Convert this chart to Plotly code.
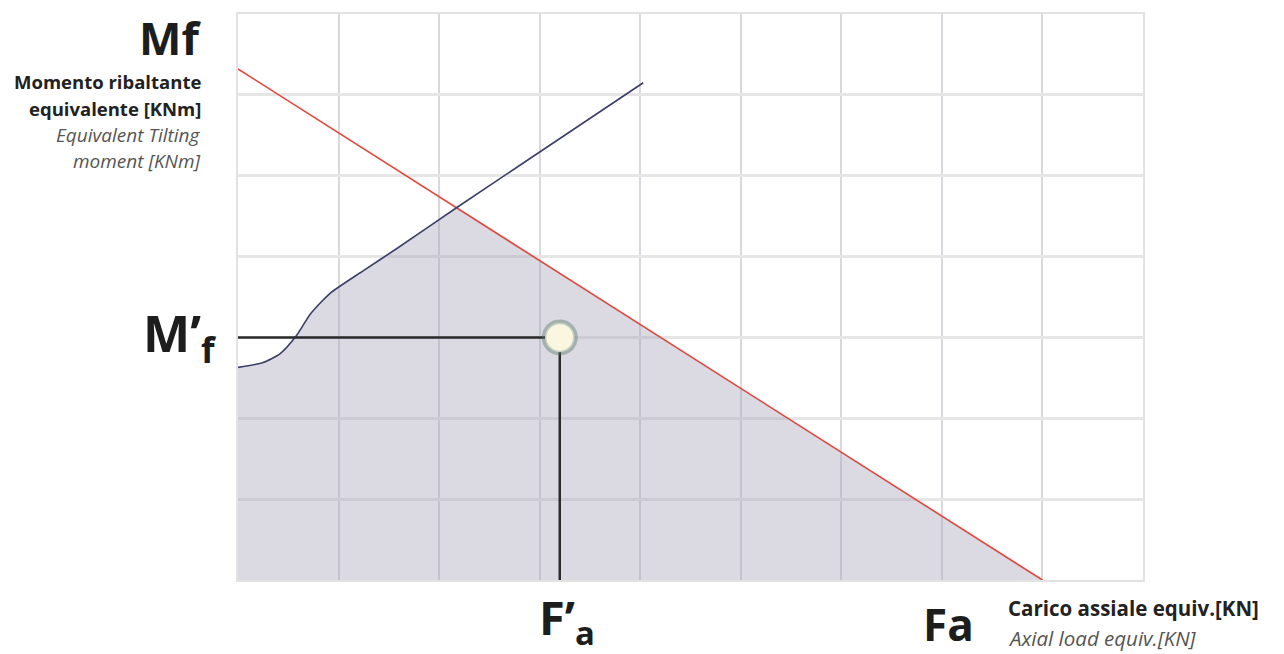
import plotly.graph_objects as go

# ---- data (axis units: 1 grid cell = 1 unit) ----
grid_x_max = 9
grid_y_max = 7

red_x = [0, 8]
red_y = [6.32, 0]

blue_x = [0.0, 0.25, 0.42, 0.58, 0.72, 0.91, 1.24, 1.58, 2.18, 2.90, 4.03]
blue_y = [2.63, 2.69, 2.80, 3.02, 3.29, 3.54, 3.82, 4.10, 4.61, 5.21, 6.15]

intersect_index = 8  # blue point where blue meets red

point_fa = 3.2
point_mf = 3.0

# ---- layout geometry (page has an 8px body margin) ----
PAGE_W, PAGE_H = 1284, 654
OFF = 8
W, H = PAGE_W - OFF, PAGE_H - OFF
PLOT_L, PLOT_R, PLOT_T, PLOT_B = 238, 1143, 12, 580   # target page pixels
L = PLOT_L - OFF
T = PLOT_T - OFF
R = W - (PLOT_R - OFF)
B = H - (PLOT_B - OFF)
PW, PH = PLOT_R - PLOT_L, PLOT_B - PLOT_T


def px(x):
    return (x - PLOT_L) / PW


def py(y):
    return (PLOT_B - y) / PH


fig = go.Figure()

# shaded admissible region
fill_x = blue_x[: intersect_index + 1] + [red_x[1]]
fill_y = blue_y[: intersect_index + 1] + [red_y[1]]
fig.add_trace(go.Scatter(x=fill_x, y=fill_y, mode="lines", fill="tozeroy",
                         fillcolor="rgba(165,162,185,0.40)",
                         line=dict(width=0), hoverinfo="skip", showlegend=False))

# red line
fig.add_trace(go.Scatter(x=red_x, y=red_y, mode="lines",
                         line=dict(color="#e4463a", width=1.6), showlegend=False))

# blue curve
fig.add_trace(go.Scatter(x=blue_x, y=blue_y, mode="lines",
                         line=dict(color="#3b3f68", width=1.6, shape="spline", smoothing=0.6),
                         showlegend=False))

# guide lines to the operating point
fig.add_trace(go.Scatter(x=[0, point_fa], y=[point_mf, point_mf], mode="lines",
                         line=dict(color="#2a2a2a", width=2.5), showlegend=False))
fig.add_trace(go.Scatter(x=[point_fa, point_fa], y=[0, point_mf], mode="lines",
                         line=dict(color="#2a2a2a", width=2.5), showlegend=False))

# operating point: halo + cream marker
fig.add_trace(go.Scatter(x=[point_fa], y=[point_mf], mode="markers",
                         marker=dict(size=36, color="rgba(80,115,95,0.40)"),
                         showlegend=False, cliponaxis=False))
fig.add_trace(go.Scatter(x=[point_fa], y=[point_mf], mode="markers",
                         marker=dict(size=28, color="#fbf6df",
                                     line=dict(color="rgba(200,212,195,1)", width=1.5)),
                         showlegend=False, cliponaxis=False))

FONT = "Open Sans"
BIG = "#1d1d1d"
annotations = [
    dict(text="<b>Mf</b>", x=px(203), y=py(36), xanchor="right", yanchor="middle",
         font=dict(size=45, color=BIG, family=FONT)),
    dict(text="<b>Momento ribaltante</b>", x=px(203), y=py(80), xanchor="right", yanchor="middle",
         font=dict(size=18.5, color="#222", family=FONT)),
    dict(text="<b>equivalente [KNm]</b>", x=px(203), y=py(107), xanchor="right", yanchor="middle",
         font=dict(size=18.5, color="#222", family=FONT)),
    dict(text="<i>Equivalent Tilting</i>", x=px(203), y=py(133), xanchor="right", yanchor="middle",
         font=dict(size=19, color="#555", family=FONT)),
    dict(text="<i>moment [KNm]</i>", x=px(203), y=py(160), xanchor="right", yanchor="middle",
         font=dict(size=19, color="#555", family=FONT)),
    dict(text="<b>M’<sub>f</sub></b>", x=px(219), y=py(335), xanchor="right", yanchor="middle",
         font=dict(size=50, color=BIG, family=FONT)),
    dict(text="<b>F’<sub>a</sub></b>", x=px(567), y=py(620), xanchor="center", yanchor="middle",
         font=dict(size=47, color=BIG, family=FONT)),
    dict(text="<b>Fa</b>", x=px(948), y=py(624), xanchor="center", yanchor="middle",
         font=dict(size=44, color=BIG, family=FONT)),
    dict(text="<b>Carico assiale equiv.[KN]</b>", x=px(1006), y=py(608), xanchor="left", yanchor="middle",
         font=dict(size=20.5, color="#222", family=FONT)),
    dict(text="<i>Axial load equiv.[KN]</i>", x=px(1006), y=py(638), xanchor="left", yanchor="middle",
         font=dict(size=20.5, color="#555", family=FONT)),
]
for a in annotations:
    a.update(xref="paper", yref="paper", showarrow=False)

fig.update_layout(
    width=W, height=H,
    margin=dict(l=L, r=R, t=T, b=B),
    paper_bgcolor="white", plot_bgcolor="white",
    annotations=annotations,
    showlegend=False,
    xaxis=dict(range=[0, grid_x_max], dtick=1, showticklabels=False, ticks="",
               showgrid=True, gridcolor="#d8d8de", gridwidth=1.5,
               zeroline=False, showline=True, linecolor="#e2e2e2", linewidth=2, mirror=True,
               fixedrange=True),
    yaxis=dict(range=[0, grid_y_max], dtick=1, showticklabels=False, ticks="",
               showgrid=True, gridcolor="#e6e6e6", gridwidth=2.5,
               zeroline=False, showline=True, linecolor="#e2e2e2", linewidth=2, mirror=True,
               fixedrange=True),
)

fig.write_html("out.html")
